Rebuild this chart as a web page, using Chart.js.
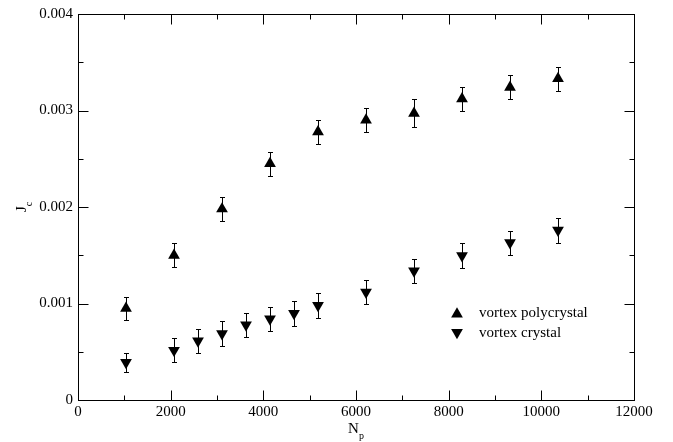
<!DOCTYPE html>
<html>
<head>
<meta charset="utf-8">
<script src="https://cdn.jsdelivr.net/npm/chart.js@4.4.1/dist/chart.umd.min.js"></script>
<style>
    body { margin: 0; background: #fff; }
    canvas { display: block; }
</style>
</head>
<body>
<canvas id="chart" width="673" height="442"></canvas>
<script>
// values (N_p, J_c and the half length of each error bar)
const polyX = [1036, 2072, 3108, 4144, 5180, 6216, 7252, 8288, 9324, 10360]
const polyY = [0.00095, 0.0015, 0.00198, 0.00245, 0.00278, 0.0029, 0.00297, 0.00312, 0.00324, 0.00333]
const polyErr = [0.00012, 0.000125, 0.000125, 0.000125, 0.000125, 0.000125, 0.000145, 0.000125, 0.000125, 0.000125]

const crystalX = [1036, 2072, 2590, 3108, 3626, 4144, 4662, 5180, 6216, 7252, 8288, 9324, 10360]
const crystalY = [0.00039, 0.000515, 0.000613, 0.000687, 0.000778, 0.00084, 0.000897, 0.00098, 0.001117, 0.001337, 0.001495, 0.00163, 0.00176]
const crystalErr = [0.0001, 0.000125, 0.000125, 0.000127, 0.000125, 0.000125, 0.000127, 0.000127, 0.000127, 0.000125, 0.000127, 0.000125, 0.000128]

const seriesNames = ["vortex polycrystal", "vortex crystal"]
const xTicks = [0, 2000, 4000, 6000, 8000, 10000, 12000]
const yTicks = [0, 0.001, 0.002, 0.003, 0.004]

const serif = "'Liberation Serif', 'Times New Roman', serif"

function toPoints(xs, ys) {
    return xs.map((x, i) => ({ x: x, y: ys[i] }))
}

function triangle(ctx, x, y, r, down) {
    const s = down ? -1 : 1
    ctx.beginPath()
    ctx.moveTo(x, y - s * r)
    ctx.lineTo(x + Math.sin(2 * Math.PI / 3) * r, y + s * r / 2)
    ctx.lineTo(x - Math.sin(2 * Math.PI / 3) * r, y + s * r / 2)
    ctx.closePath()
    ctx.fill()
}

// vertical error bars with small caps
const errorBars = {
    id: "errorBars",
    beforeDatasetsDraw(chart) {
        const ctx = chart.ctx
        const yScale = chart.scales.y
        ctx.save()
        ctx.strokeStyle = "#000"
        ctx.lineWidth = 1
        chart.data.datasets.forEach((ds, i) => {
            chart.getDatasetMeta(i).data.forEach((pt, j) => {
                const v = ds.data[j].y
                const e = ds.errors[j]
                const px = Math.round(pt.x) + 0.5
                const yTop = Math.round(yScale.getPixelForValue(v + e)) + 0.5
                const yBot = Math.round(yScale.getPixelForValue(v - e)) + 0.5
                ctx.beginPath()
                ctx.moveTo(px, yTop)
                ctx.lineTo(px, yBot)
                ctx.moveTo(px - 2.5, yTop)
                ctx.lineTo(px + 2.5, yTop)
                ctx.moveTo(px - 2.5, yBot)
                ctx.lineTo(px + 2.5, yBot)
                ctx.stroke()
            })
        })
        ctx.restore()
    }
}

// frame, inward ticks on all sides, axis titles and the legend
const frame = {
    id: "frame",
    afterDraw(chart) {
        const ctx = chart.ctx
        const { left, right, top, bottom } = chart.chartArea
        const xs = chart.scales.x
        const ys = chart.scales.y
        ctx.save()
        ctx.strokeStyle = "#000"
        ctx.lineWidth = 1
        const l = Math.round(left) + 0.5
        const r = Math.round(right) + 0.5
        const t = Math.round(top) + 0.5
        const b = Math.round(bottom) + 0.5
        ctx.strokeRect(l, t, r - l, b - t)

        ctx.beginPath()
        xs.ticks.forEach((tk, i) => {
            const px = Math.round(xs.getPixelForValue(tk.value)) + 0.5
            ctx.moveTo(px, b); ctx.lineTo(px, b - 10)
            ctx.moveTo(px, t); ctx.lineTo(px, t + 10)
            if (i < xs.ticks.length - 1) {
                const m = Math.round(xs.getPixelForValue((tk.value + xs.ticks[i + 1].value) / 2)) + 0.5
                ctx.moveTo(m, b); ctx.lineTo(m, b - 5)
                ctx.moveTo(m, t); ctx.lineTo(m, t + 5)
            }
        })
        ys.ticks.forEach((tk, i) => {
            const py = Math.round(ys.getPixelForValue(tk.value)) + 0.5
            ctx.moveTo(l, py); ctx.lineTo(l + 10, py)
            ctx.moveTo(r, py); ctx.lineTo(r - 10, py)
            if (i < ys.ticks.length - 1) {
                const m = Math.round(ys.getPixelForValue((tk.value + ys.ticks[i + 1].value) / 2)) + 0.5
                ctx.moveTo(l, m); ctx.lineTo(l + 5, m)
                ctx.moveTo(r, m); ctx.lineTo(r - 5, m)
            }
        })
        ctx.stroke()

        // axis titles with subscripts
        ctx.fillStyle = "#000"
        ctx.textBaseline = "alphabetic"
        ctx.textAlign = "left"
        ctx.font = "15px " + serif
        const nw = ctx.measureText("N").width
        const nx = (left + right) / 2 - (nw + 5) / 2
        ctx.fillText("N", nx, 433)
        ctx.font = "10px " + serif
        ctx.fillText("p", nx + nw, 439)

        ctx.save()
        ctx.translate(26, 212)
        ctx.rotate(-Math.PI / 2)
        ctx.font = "15px " + serif
        ctx.fillText("J", 0, 0)
        const jw = ctx.measureText("J").width
        ctx.font = "10px " + serif
        ctx.fillText("c", jw, 6)
        ctx.restore()

        // legend
        ctx.font = "15px " + serif
        ctx.textBaseline = "middle"
        triangle(ctx, 457, 314, 6.8, false)
        triangle(ctx, 457, 332.5, 6.8, true)
        ctx.fillText(chart.data.datasets[0].label, 479, 313)
        ctx.fillText(chart.data.datasets[1].label, 479, 333)
        ctx.restore()
    }
}

new Chart(document.getElementById("chart"), {
    type: "scatter",
    data: {
        datasets: [
            {
                label: seriesNames[0],
                data: toPoints(polyX, polyY),
                errors: polyErr,
                pointStyle: "triangle",
                pointRadius: 6.8,
                pointHoverRadius: 6.8,
                backgroundColor: "#000",
                borderWidth: 0
            },
            {
                label: seriesNames[1],
                data: toPoints(crystalX, crystalY),
                errors: crystalErr,
                pointStyle: "triangle",
                rotation: 180,
                pointRadius: 6.8,
                pointHoverRadius: 6.8,
                backgroundColor: "#000",
                borderWidth: 0
            }
        ]
    },
    options: {
        responsive: false,
        animation: false,
        devicePixelRatio: 1,
        layout: { padding: { top: 12, right: 39, left: 0, bottom: 0 } },
        plugins: {
            legend: { display: false },
            tooltip: { enabled: false }
        },
        scales: {
            x: {
                type: "linear",
                min: xTicks[0],
                max: xTicks[xTicks.length - 1],
                afterBuildTicks: scale => { scale.ticks = xTicks.map(v => ({ value: v })) },
                afterFit: scale => { scale.height = 42 },
                grid: { display: false, drawTicks: false },
                border: { display: false },
                ticks: {
                    padding: 3,
                    color: "#000",
                    font: { family: serif, size: 15 },
                    callback: v => String(v)
                }
            },
            y: {
                min: yTicks[0],
                max: yTicks[yTicks.length - 1],
                afterBuildTicks: scale => { scale.ticks = yTicks.map(v => ({ value: v })) },
                afterFit: scale => { scale.width = 78 },
                grid: { display: false, drawTicks: false },
                border: { display: false },
                ticks: {
                    padding: 5,
                    color: "#000",
                    font: { family: serif, size: 15 },
                    callback: v => v === 0 ? "0" : v.toFixed(3)
                }
            }
        }
    },
    plugins: [errorBars, frame]
})
</script>
</body>
</html>
